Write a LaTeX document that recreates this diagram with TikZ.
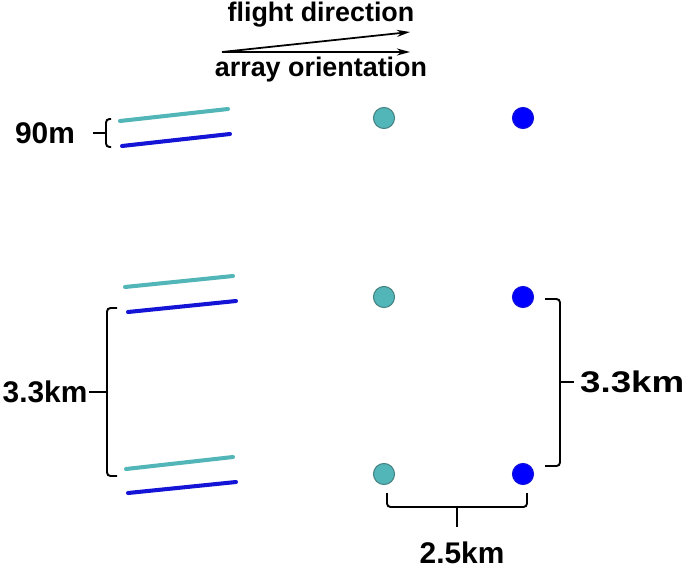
\documentclass[tikz,border=0pt]{standalone}
\usepackage{fontspec}
\setmainfont{Liberation Sans}
\usetikzlibrary{arrows.meta}
\definecolor{tealline}{RGB}{82,182,184}
\definecolor{tealedge}{RGB}{70,130,130}
\definecolor{blueline}{RGB}{20,20,215}
\begin{document}
\begin{tikzpicture}[
  x = 0.02cm, y = -0.02cm,
  tealarray/.style = {draw = tealline, line width = 2.3pt, line cap = round},
  bluearray/.style = {draw = blueline, line width = 2.3pt, line cap = round},
  tealdot/.style = {circle, fill = tealline, draw = tealedge, line width = 0.6pt, minimum size = 12pt, inner sep = 0pt},
  bluedot/.style = {circle, fill = blue, draw = blueline, line width = 0.6pt, minimum size = 12pt, inner sep = 0pt},
  brace/.style = {draw, line width = 1.1pt, rounded corners = 2pt},
  heading/.style = {font = \fontsize{15.3}{18}\selectfont\bfseries, inner sep = 1pt},
  dimtext/.style = {font = \fontsize{17}{20}\selectfont\bfseries, inner sep = 1pt},
  dir/.style = {draw, line width = 1pt, -{Stealth[length = 7.5pt, width = 4pt]}}
]
  \useasboundingbox (0,0) rectangle (685,568);

  % direction arrows
  \node[heading] (flight) at (321,15) {flight direction};
  \node[heading] (orient) at (321,70) {array orientation};
  \coordinate (start) at (222,52);
  \coordinate (tipf)  at (410,32);
  \coordinate (tipa)  at (410,52);
  \draw[dir] (start) -- (tipf);
  \draw[dir] (start) -- (tipa);

  % sensor arrays
  \draw[tealarray] (120,121) -- (228,109);
  \draw[bluearray] (122,146) -- (230,134);
  \draw[tealarray] (125,287) -- (233,276);
  \draw[bluearray] (128,312) -- (236,301);
  \draw[tealarray] (126,469) -- (233,457);
  \draw[bluearray] (128,493) -- (236,482);

  % receiver grid
  \node[tealdot] (t1) at (384,118) {};
  \node[bluedot] (b1) at (523,118) {};
  \node[tealdot] (t2) at (384,297) {};
  \node[bluedot] (b2) at (523,297) {};
  \node[tealdot] (t3) at (384,474) {};
  \node[bluedot] (b3) at (523,474) {};

  % dimensions
  \node[dimtext] (gap)   at (45,133)  {90m};
  \node[dimtext] (lrow)  at (45,392)  {3.3km};
  \node[dimtext, anchor = west] (rrow) at (578,382) {\scalebox{1.23}[1]{3.3km}};
  \node[dimtext] (col)   at (462,553) {2.5km};

  \draw[brace] (111,119) -- (106,119) -- (106,147) -- (111,147);
  \draw[brace, rounded corners = 0pt] (106,133) -- (93,133);
  \draw[brace] (117,308) -- (107,308) -- (107,476) -- (117,476);
  \draw[brace, rounded corners = 0pt] (107,392) -- (lrow.east);
  \draw[brace] (545,299) -- (560,299) -- (560,466) -- (545,466);
  \draw[brace, rounded corners = 0pt] (560,382) -- (574,382);
  \draw[brace] (387,493) -- (387,507) -- (527,507) -- (527,493);
  \draw[brace, rounded corners = 0pt] (457,507) -- (457,527);
\end{tikzpicture}
\end{document}
